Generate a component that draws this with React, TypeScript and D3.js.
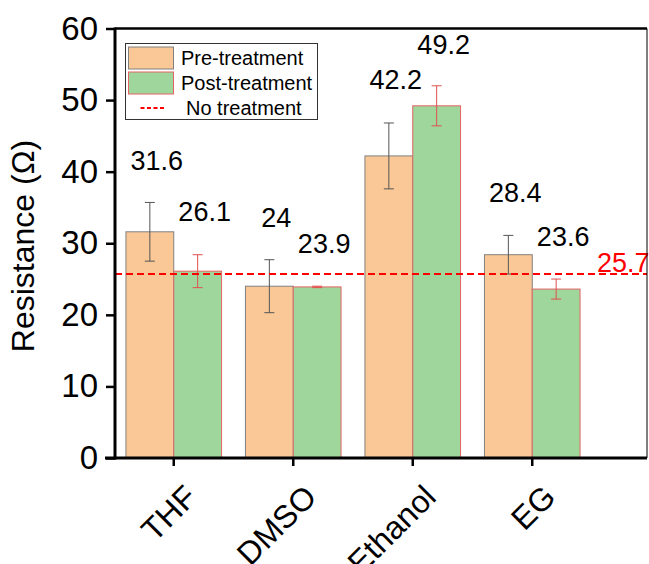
import * as d3 from "d3";
import { useEffect, useRef } from "react";

// data
const categories = ["THF", "DMSO", "Ethanol", "EG"];
const preValues = [31.6, 24, 42.2, 28.4];
const postValues = [26.1, 23.9, 49.2, 23.6];
const preErrors = [4.1, 3.7, 4.6, 2.7];
const postErrors = [2.3, 0.1, 2.8, 1.4];
const noTreatment = 25.7;
const yTicks = [0, 10, 20, 30, 40, 50, 60];

// where the value labels sit (in data units, hand-placed in the original)
const preLabelAt = [40.2, 32.3, 51.5, 35.7];
const postLabelAt = [33.1, 28.7, 56.5, 29.6];

const W = 649;
const H = 564;
const FONT = "'Liberation Sans', Arial, sans-serif";

const App = () => {
    const ref = useRef<SVGSVGElement | null>(null);

    useEffect(() => {
        const svg = d3.select(ref.current);
        svg.selectAll("*").remove();

        const left = 115;
        const right = 647;
        const top = 28.5;
        const bottom = 458;

        const x = d3
            .scaleBand()
            .domain(categories)
            .range([114, 592])
            .paddingInner(0.2)
            .paddingOuter(0.1);

        const inner = d3
            .scaleBand()
            .domain(["pre", "post"])
            .range([0, x.bandwidth()]);

        const y = d3.scaleLinear().domain([0, 60]).range([bottom, top]);

        const series = [
            { key: "pre", values: preValues, errors: preErrors, labels: preLabelAt, fill: "#f9c896", stroke: "#808080", err: "#555555" },
            { key: "post", values: postValues, errors: postErrors, labels: postLabelAt, fill: "#9fd69b", stroke: "#e46464", err: "#e05050" }
        ];

        // bars
        series.forEach(s => {
            svg
                .append("g")
                .selectAll("rect")
                .data(s.values)
                .enter()
                .append("rect")
                .attr("x", (d, i) => x(categories[i])! + inner(s.key)!)
                .attr("y", d => y(d))
                .attr("width", inner.bandwidth())
                .attr("height", d => bottom - y(d))
                .style("fill", s.fill)
                .style("stroke", s.stroke)
                .style("stroke-width", 1);
        });

        // error bars
        series.forEach(s => {
            const g = svg.append("g").style("stroke", s.err).style("stroke-width", 1);
            s.values.forEach((v, i) => {
                const cx = x(categories[i])! + inner(s.key)! + inner.bandwidth() / 2;
                const e = s.errors[i];
                g.append("line").attr("x1", cx).attr("x2", cx).attr("y1", y(v + e)).attr("y2", y(v - e));
                g.append("line").attr("x1", cx - 5).attr("x2", cx + 5).attr("y1", y(v + e)).attr("y2", y(v + e));
                g.append("line").attr("x1", cx - 5).attr("x2", cx + 5).attr("y1", y(v - e)).attr("y2", y(v - e));
            });
        });

        // no treatment reference line
        svg
            .append("line")
            .attr("x1", left)
            .attr("x2", right)
            .attr("y1", y(noTreatment))
            .attr("y2", y(noTreatment))
            .style("stroke", "#ff0000")
            .style("stroke-width", 2)
            .style("stroke-dasharray", "7,4");

        svg
            .append("text")
            .attr("x", right - 50)
            .attr("y", y(noTreatment) - 2)
            .style("font-family", FONT)
            .style("font-size", "27px")
            .style("fill", "#ff0000")
            .text(String(noTreatment));

        // value labels
        series.forEach(s => {
            s.values.forEach((v, i) => {
                const cx = x(categories[i])! + inner(s.key)! + inner.bandwidth() / 2;
                svg
                    .append("text")
                    .attr("x", cx + 7)
                    .attr("y", y(s.labels[i]))
                    .attr("text-anchor", "middle")
                    .style("font-family", FONT)
                    .style("font-size", "27px")
                    .style("fill", "#000")
                    .text(String(v));
            });
        });

        // frame
        svg.append("line").attr("x1", right).attr("x2", right).attr("y1", top).attr("y2", bottom)
            .style("stroke", "#000").style("stroke-width", 1);
        svg.append("line").attr("x1", left).attr("x2", right).attr("y1", top).attr("y2", top)
            .style("stroke", "#000").style("stroke-width", 2.5);

        // y axis
        const yAxis = d3.axisLeft(y).tickValues(yTicks).tickSize(9).tickPadding(8);
        const gy = svg.append("g").attr("transform", `translate(${left},0)`).call(yAxis);
        gy.select(".domain").remove();
        gy.selectAll("line").style("stroke", "#000").style("stroke-width", 2.5);
        gy.selectAll("text").style("font-family", FONT).style("font-size", "33px").style("fill", "#000");
        svg.append("line").attr("x1", left).attr("x2", left).attr("y1", top - 1).attr("y2", bottom + 1.5)
            .style("stroke", "#000").style("stroke-width", 3);

        // x axis
        svg.append("line").attr("x1", left - 10).attr("x2", right).attr("y1", bottom).attr("y2", bottom)
            .style("stroke", "#000").style("stroke-width", 3);
        const gx = svg.append("g");
        categories.forEach(c => {
            const cx = x(c)! + x.bandwidth() / 2;
            gx.append("line").attr("x1", cx).attr("x2", cx).attr("y1", bottom).attr("y2", bottom + 8)
                .style("stroke", "#000").style("stroke-width", 2.5);
            gx.append("text")
                .attr("transform", `translate(${cx + 25},${bottom + 41}) rotate(-45)`)
                .attr("text-anchor", "end")
                .style("font-family", FONT)
                .style("font-size", "32px")
                .style("fill", "#000")
                .text(c);
        });

        // y title
        svg
            .append("text")
            .attr("transform", `translate(34,246) rotate(-90)`)
            .attr("text-anchor", "middle")
            .style("font-family", FONT)
            .style("font-size", "32px")
            .style("fill", "#000")
            .text("Resistance (Ω)");

        // legend
        const lg = svg.append("g").attr("transform", "translate(125.5,43.5)");
        lg.append("rect").attr("width", 192).attr("height", 76)
            .style("fill", "#fff").style("stroke", "#333").style("stroke-width", 1);
        lg.append("rect").attr("x", 3).attr("y", 3.5).attr("width", 45).attr("height", 22)
            .style("fill", series[0].fill).style("stroke", series[0].stroke);
        lg.append("rect").attr("x", 3).attr("y", 28.5).attr("width", 45).attr("height", 22)
            .style("fill", series[1].fill).style("stroke", series[1].stroke);
        lg.append("line").attr("x1", 15).attr("x2", 41).attr("y1", 64.5).attr("y2", 64.5)
            .style("stroke", "#ff0000").style("stroke-width", 2).style("stroke-dasharray", "4,2.5");
        const legendText = [
            { t: "Pre-treatment", x: 55.5, y: 21.5 },
            { t: "Post-treatment", x: 55.5, y: 46.5 },
            { t: "No treatment", x: 60.5, y: 71.5 }
        ];
        legendText.forEach(d => {
            lg.append("text").attr("x", d.x).attr("y", d.y)
                .style("font-family", FONT).style("font-size", "20px").style("fill", "#000")
                .text(d.t);
        });
    }, []);

    return (
        <svg
            ref={ref}
            width={W}
            height={H}
            style={{ position: "absolute", left: 0, top: 0, background: "#fff" }}
        />
    );
};

export default App;
